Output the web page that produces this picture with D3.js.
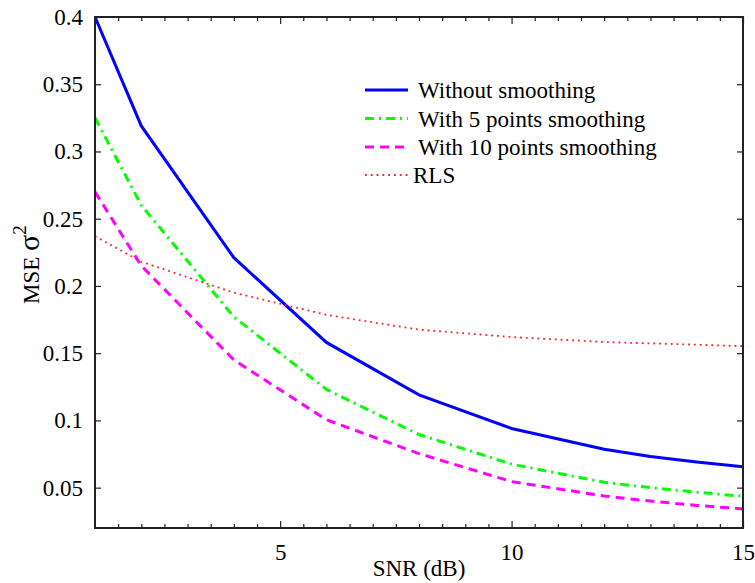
<!DOCTYPE html>
<html>
<head>
<meta charset="utf-8">
<script src="https://cdn.jsdelivr.net/npm/d3@7"></script>
<style>
  body { margin: 0; background: #fff; }
  text { font-family: "Liberation Serif", "Times New Roman", serif; fill: #000; }
</style>
</head>
<body>
<script>
// SNR points (dB) and MSE values
const snr = [1, 2, 4, 6, 8, 10, 12, 13, 14, 15];
const noSmooth = [0.400, 0.319, 0.221, 0.158, 0.119, 0.094, 0.0785, 0.0732, 0.0690, 0.0655];
const smooth5 = [0.325, 0.260, 0.177, 0.123, 0.0895, 0.0675, 0.054, 0.050, 0.0466, 0.0436];
const smooth10 = [0.270, 0.215, 0.145, 0.1005, 0.0753, 0.0545, 0.0438, 0.0400, 0.0368, 0.0342];
const rls = [0.237, 0.218, 0.195, 0.1785, 0.1675, 0.162, 0.1583, 0.1573, 0.1563, 0.1552];
const seriesNames = ["Without smoothing", "With 5 points smoothing", "With 10 points smoothing", "RLS"];
const xTicks = [5, 10, 15];
const yTicks = [0.05, 0.1, 0.15, 0.2, 0.25, 0.3, 0.35, 0.4];

const width = 755, height = 583;
const margin = { top: 17, right: 12, bottom: 55, left: 95 };
const w = width - margin.left - margin.right;
const h = height - margin.top - margin.bottom;

const svg = d3.select("body").append("svg")
  .attr("width", width)
  .attr("height", height);

const g = svg.append("g")
  .attr("transform", `translate(${margin.left},${margin.top})`);

const x = d3.scaleLinear().domain([1, 15]).range([0, w]);
const y = d3.scaleLinear().domain([0.02, 0.4]).range([h, 0]);

const styles = [
  { color: "#0000ff", width: 3, dash: null },
  { color: "#00ff00", width: 3, dash: "9,5,2,5" },
  { color: "#ff00ff", width: 3, dash: "9,6" },
  { color: "#ff2020", width: 1.8, dash: "1.8,4" }
];
const allSeries = [noSmooth, smooth5, smooth10, rls];

// clip so lines stay inside the box
g.append("clipPath").attr("id", "clip")
  .append("rect").attr("width", w).attr("height", h);

const line = d3.line()
  .x((d, i) => x(snr[i]))
  .y(d => y(d));

g.append("g").attr("clip-path", "url(#clip)")
  .selectAll("path")
  .data(allSeries)
  .join("path")
  .attr("d", d => line(d))
  .attr("fill", "none")
  .attr("stroke", (d, i) => styles[i].color)
  .attr("stroke-width", (d, i) => styles[i].width)
  .attr("stroke-dasharray", (d, i) => styles[i].dash);

// axes, matlab style: ticks inside, box all round
const minorX = d3.range(1.5, 15, 0.5).filter(v => !xTicks.includes(v));

const axBottom = g.append("g").attr("transform", `translate(0,${h})`)
  .call(d3.axisBottom(x).tickValues(xTicks).tickSize(-7).tickPadding(16).tickFormat(d3.format("d")));
const axBottomMinor = g.append("g").attr("transform", `translate(0,${h})`)
  .call(d3.axisBottom(x).tickValues(minorX).tickSize(-4).tickFormat(""));
const axTop = g.append("g")
  .call(d3.axisTop(x).tickValues(xTicks).tickSize(-7).tickFormat(""));
const axTopMinor = g.append("g")
  .call(d3.axisTop(x).tickValues(minorX).tickSize(-4).tickFormat(""));

const axLeft = g.append("g")
  .call(d3.axisLeft(y).tickValues(yTicks).tickSize(-6).tickPadding(12).tickFormat(d => String(+d.toFixed(2))));
const axRight = g.append("g").attr("transform", `translate(${w},0)`)
  .call(d3.axisRight(y).tickValues(yTicks).tickSize(-6).tickFormat(""));

[axBottom, axBottomMinor, axTop, axTopMinor, axLeft, axRight].forEach(a => {
  a.select(".domain").remove();
  a.selectAll("line").attr("stroke", "#222").attr("stroke-width", 1.2);
  a.selectAll("text").style("font-size", "23px").attr("fill", "#000");
});

g.append("rect")
  .attr("width", w).attr("height", h)
  .attr("fill", "none")
  .attr("stroke", "#222")
  .attr("stroke-width", 2);

// axis labels
svg.append("text")
  .attr("x", margin.left + w / 2)
  .attr("y", 576)
  .attr("text-anchor", "middle")
  .style("font-size", "23px")
  .text("SNR (dB)");

const yl = svg.append("text")
  .attr("transform", `translate(39,304) rotate(-90)`)
  .attr("text-anchor", "start")
  .style("font-size", "23px");
yl.append("tspan").text("MSE ");
yl.append("tspan").style("font-size", "30px").text("\u03c3");
yl.append("tspan").attr("dy", -13).style("font-size", "19px").text("2");

// legend
const legend = svg.append("g");
const rowY = [90, 118.5, 147, 175];
seriesNames.forEach((name, i) => {
  legend.append("line")
    .attr("x1", 365).attr("x2", 408)
    .attr("y1", rowY[i]).attr("y2", rowY[i])
    .attr("stroke", styles[i].color)
    .attr("stroke-width", styles[i].width)
    .attr("stroke-dasharray", styles[i].dash);
  legend.append("text")
    .attr("x", i === 3 ? 413 : 418)
    .attr("y", rowY[i] + 8)
    .style("font-size", "23px")
    .text(name);
});
</script>
</body>
</html>
